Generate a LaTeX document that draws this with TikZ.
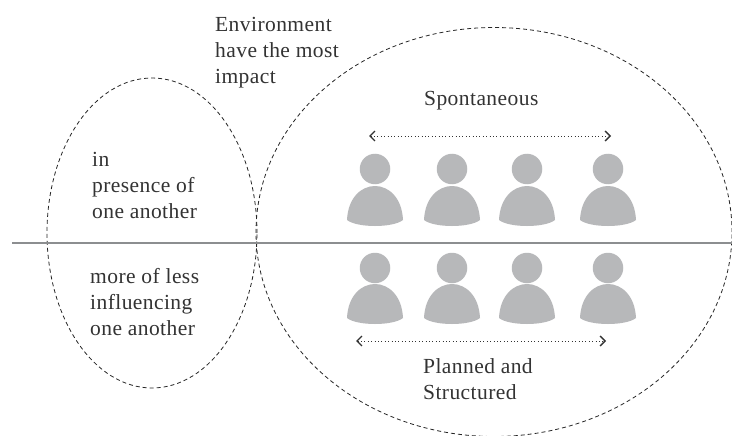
\documentclass[tikz,border=0pt]{standalone}
\usepackage{fontspec}
\setmainfont[LetterSpace=2]{Liberation Serif}
\usetikzlibrary{shapes.geometric,arrows.meta}
\definecolor{persongray}{HTML}{B7B8BA}
\definecolor{linegray}{HTML}{8C8E90}
\definecolor{textgray}{HTML}{333333}
\tikzset{
  x=1pt,y=-1pt,
  boundary/.style={draw=black!85,dash pattern=on 4pt off 3pt,line width=0.8pt,ellipse,inner sep=0pt},
  label/.style={font=\fontsize{21.5}{26}\selectfont,text=textgray,align=left,anchor=north west,inner sep=0pt},
  head/.style={circle,fill=persongray,minimum size=30.5pt,inner sep=0pt},
  reach/.style={draw=black!80,line width=0.6pt,dash pattern=on 0.8pt off 2.6pt,{Straight Barb[length=5pt,width=10pt,line width=1.4pt]}-{Straight Barb[length=5pt,width=10pt,line width=1.4pt]}},
  divider/.style={draw=linegray,line width=1.6pt}
}
\newcommand{\personbody}[2]{%
  \fill[persongray] (#1-28,#2+34) .. controls (#1-27,#2+12) and (#1-14,#2) .. (#1,#2)
    .. controls (#1+14,#2) and (#1+27,#2+12) .. (#1+28,#2+34)
    .. controls (#1+18,#2+42) and (#1-18,#2+42) .. (#1-28,#2+34) -- cycle;}
\begin{document}
\begin{tikzpicture}
\useasboundingbox (0,0) rectangle (732,436);
\fill[white] (0,0) rectangle (732,436);
\node[boundary,minimum width=210pt,minimum height=310pt] (left) at (152,233) {};
\node[boundary,minimum width=476pt,minimum height=409pt] (right) at (494,232) {};
\coordinate (divL) at (12,243);
\coordinate (divR) at (732,243);
\draw[divider] (divL) -- (divR);
\foreach \n/\x in {1/375,2/452,3/527,4/608}{
  \personbody{\x}{186}
  \node[head] (top\n) at (\x,169) {};
  \personbody{\x}{284}
  \node[head] (bot\n) at (\x,268) {};
}
\coordinate (a1) at (369,136);
\coordinate (a2) at (611,136);
\coordinate (b1) at (356,341);
\coordinate (b2) at (606,341);
\draw[reach] (a1) -- (a2);
\draw[reach] (b1) -- (b2);
\node[label] (env) at (215,17) {Environment\\have the most\\impact};
\node[label] (spon) at (424,91) {Spontaneous};
\node[label] (pres) at (92,152) {in\\presence of\\one another};
\node[label] (infl) at (90,268) {more of less\\influencing\\one another};
\node[label] (plan) at (423,358) {Planned and\\Structured};
\end{tikzpicture}
\end{document}
